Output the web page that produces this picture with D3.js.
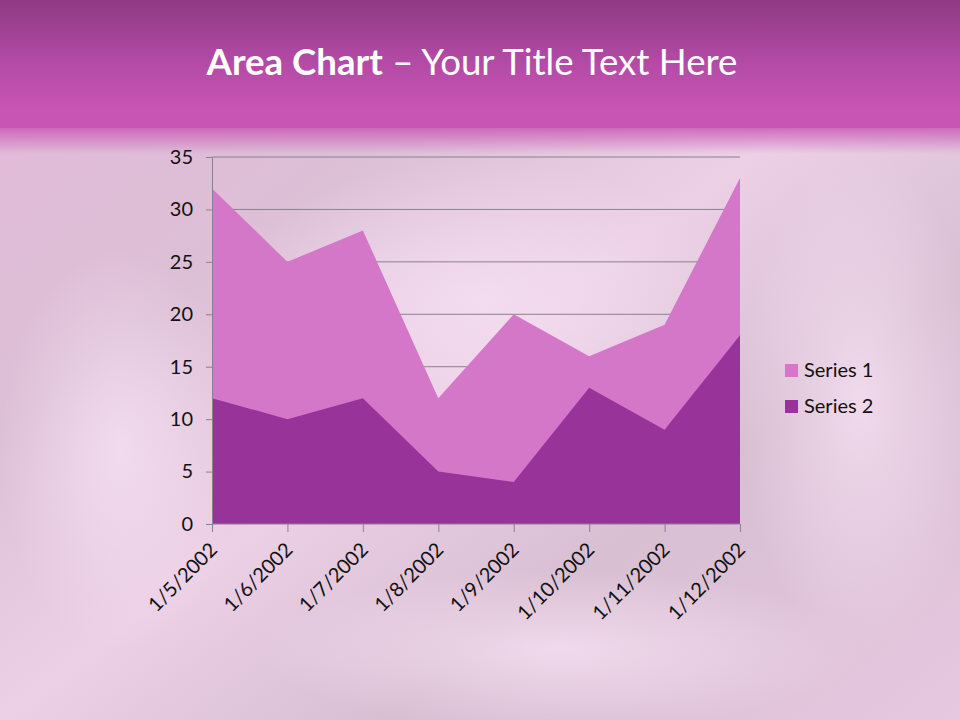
<!DOCTYPE html>
<html><head><meta charset="utf-8">
<script src="https://cdn.jsdelivr.net/npm/d3@7"></script>
<style>html,body{margin:0;padding:0;}svg{display:block;}</style>
</head><body>
<script>
const categories = ["1/5/2002","1/6/2002","1/7/2002","1/8/2002","1/9/2002","1/10/2002","1/11/2002","1/12/2002"];
const series1 = [32, 25, 28, 12, 20, 16, 19, 33];
const series2 = [12, 10, 12, 5, 4, 13, 9, 18];
const seriesNames = ["Series 1", "Series 2"];
const yTicks = [0, 5, 10, 15, 20, 25, 30, 35];

const W = 960, H = 720;
const font = "Lato, 'Open Sans', sans-serif";
const svg = d3.select("body").append("svg").attr("width", W).attr("height", H);
const defs = svg.append("defs");

// background
const bg = defs.append("linearGradient").attr("id","bg").attr("x1",0).attr("y1",0).attr("x2",1).attr("y2",1);
[[0,"#e4b8da"],[0.3,"#dcc0d6"],[0.5,"#ecd0e6"],[0.7,"#d8bfd2"],[1,"#e6c8e0"]].forEach(s=>bg.append("stop").attr("offset",s[0]).attr("stop-color",s[1]));
svg.append("rect").attr("width",W).attr("height",H).attr("fill","url(#bg)");

// soft satin highlights
const rg = defs.append("radialGradient").attr("id","hl");
rg.append("stop").attr("offset",0).attr("stop-color","#f6e0f2").attr("stop-opacity",0.8);
rg.append("stop").attr("offset",1).attr("stop-color","#f6e0f2").attr("stop-opacity",0);
[[480,300,260,140],[560,650,300,80],[120,450,120,200],[860,400,120,250]].forEach(e=>
  svg.append("ellipse").attr("cx",e[0]).attr("cy",e[1]).attr("rx",e[2]).attr("ry",e[3]).attr("fill","url(#hl)"));

// header band
const hg = defs.append("linearGradient").attr("id","hdr").attr("x1",0).attr("y1",0).attr("x2",0).attr("y2",1);
[[0,"#8e3a82"],[0.5,"#b44ba6"],[0.85,"#c854b4"],[1,"#c854b4"]].forEach(s=>hg.append("stop").attr("offset",s[0]).attr("stop-color",s[1]));
svg.append("rect").attr("width",W).attr("height",128).attr("fill","url(#hdr)");
const fg = defs.append("linearGradient").attr("id","fade").attr("x1",0).attr("y1",0).attr("x2",0).attr("y2",1);
fg.append("stop").attr("offset",0).attr("stop-color","#c854b4").attr("stop-opacity",0.8);
fg.append("stop").attr("offset",1).attr("stop-color","#c854b4").attr("stop-opacity",0);
svg.append("rect").attr("y",128).attr("width",W).attr("height",26).attr("fill","url(#fade)");

// title, fitted to the reference width
const t = svg.append("text").attr("x",472).attr("y",75).attr("text-anchor","middle")
  .attr("font-family",font).attr("font-size",36).attr("fill","#ffffff");
t.append("tspan").attr("font-weight","bold").text("Area Chart");
t.append("tspan").text(" \u2013 Your Title Text Here");
const tw = t.node().getComputedTextLength();
t.attr("font-size", 36 * 531 / tw);

// scales
const x = d3.scalePoint().domain(categories).range([212, 740]);
const y = d3.scaleLinear().domain([0, 35]).range([524, 157]);

// gridlines
svg.append("g").selectAll("line").data(yTicks.filter(d=>d>0)).join("line")
  .attr("x1",212).attr("x2",740).attr("y1",d=>y(d)).attr("y2",d=>y(d))
  .attr("stroke","#8a8090").attr("stroke-width",1);

// areas
const colors = ["#d577c8", "#983399"];
const area = d3.area().x((d,i)=>x(categories[i])).y0(y(0)).y1(d=>y(d));
svg.append("path").datum(series1).attr("d",area).attr("fill",colors[0]);
svg.append("path").datum(series2).attr("d",area).attr("fill",colors[1]);

// y axis
const yAxis = svg.append("g").attr("transform","translate(212,0)")
  .call(d3.axisLeft(y).tickValues(yTicks).tickSize(6).tickPadding(13));
yAxis.select(".domain").attr("stroke","#8a8090");
yAxis.selectAll(".tick line").attr("stroke","#8a8090");
yAxis.selectAll("text").attr("font-family",font).attr("font-size",20).attr("fill","#111");

// x axis
const xAxis = svg.append("g").attr("transform","translate(0,524)")
  .call(d3.axisBottom(x).tickSize(8).tickPadding(0));
xAxis.select(".domain").attr("stroke","#8a8090").attr("d","M212,0H740");
xAxis.selectAll(".tick line").attr("stroke","#8a8090");
xAxis.selectAll("text").attr("font-family",font).attr("font-size",20).attr("fill","#111")
  .attr("text-anchor","end").attr("dy",null).attr("y",0)
  .attr("transform","translate(6,27) rotate(-45)");

// legend
const lg = svg.append("g").attr("transform","translate(785,364)");
seriesNames.forEach((n,i)=>{
  const g = lg.append("g").attr("transform",`translate(0,${i*36})`);
  g.append("rect").attr("width",13).attr("height",13).attr("fill",colors[i]);
  g.append("text").attr("x",19).attr("y",13).attr("font-family",font).attr("font-size",20).attr("fill","#111").text(n);
});
</script>
</body></html>
